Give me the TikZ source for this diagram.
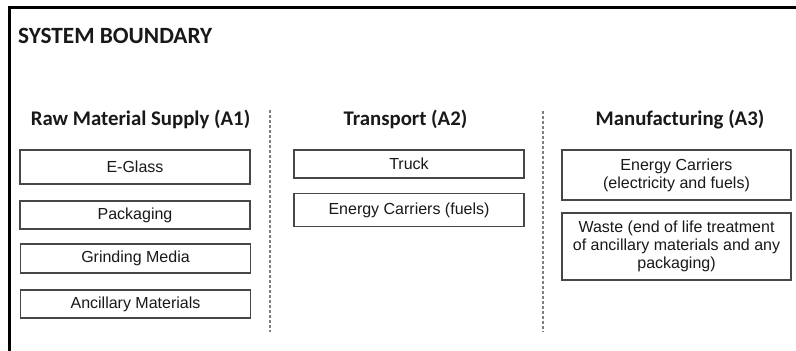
\documentclass[tikz,border=0pt]{standalone}
\usepackage{fontspec}
\setmainfont{Liberation Sans}
\newfontfamily\headfont{Carlito}
\begin{document}
\begin{tikzpicture}[x=1pt,y=1pt,
  titletext/.style={font=\headfont\bfseries\fontsize{23.3}{27}\selectfont, text=black!90, inner sep=0pt, anchor=base west},
  headtext/.style={font=\headfont\bfseries\fontsize{20.8}{24}\selectfont, text=black!90, inner sep=0pt, anchor=base},
  itembox/.style={draw=black!72, line width=1.4pt, minimum width=230pt, inner sep=0pt, align=center,
    font=\fontsize{16}{18}\selectfont, text=black!90},
  divider/.style={draw=black!50, line width=1.6pt, dash pattern=on 3pt off 2pt},
  frame/.style={draw=black, line width=3pt}]
\useasboundingbox (0,0) rectangle (796,-351);
\clip (0,0) rectangle (796,-351);
\fill[white] (0,0) rectangle (796,-351);
% system boundary frame (extends beyond the picture)
\draw[frame] (9.5,-7.5) rectangle (900,-420);
\node[titletext] (title) at (18,-43.3) {SYSTEM BOUNDARY};
% headings
\node[headtext] (h1) at (140.5,-125) {Raw Material Supply (A1)};
\node[headtext] (h2) at (405.5,-125) {Transport (A2)};
\node[headtext] (h3) at (680,-125) {Manufacturing (A3)};
% dividers
\coordinate (d1t) at (270,-110);
\coordinate (d1b) at (270,-332);
\coordinate (d2t) at (543,-111);
\coordinate (d2b) at (543,-332);
\draw[divider] (d1t) -- (d1b);
\draw[divider] (d2t) -- (d2b);
% column 1
\node[itembox, minimum height=34pt] (eglass) at (135,-167) {E-Glass};
\node[itembox, minimum height=28pt] (pack) at (135,-215) {Packaging};
\node[itembox, minimum height=29pt] (grind) at (135.5,-258.5) {Grinding Media};
\node[itembox, minimum height=28pt] (ancil) at (135.5,-304) {Ancillary Materials};
% column 2
\node[itembox, minimum height=28pt] (truck) at (409,-164) {Truck};
\node[itembox, minimum height=33.5pt] (fuels) at (409,-210) {Energy Carriers (fuels)};
% column 3
\node[itembox, minimum width=229pt, minimum height=50pt] (energy) at (676.5,-175) {Energy Carriers\\(electricity and fuels)};
\node[itembox, minimum width=229pt, minimum height=67pt] (waste) at (676.5,-246.5) {Waste (end of life treatment\\of ancillary materials and any\\packaging)};
\end{tikzpicture}
\end{document}
